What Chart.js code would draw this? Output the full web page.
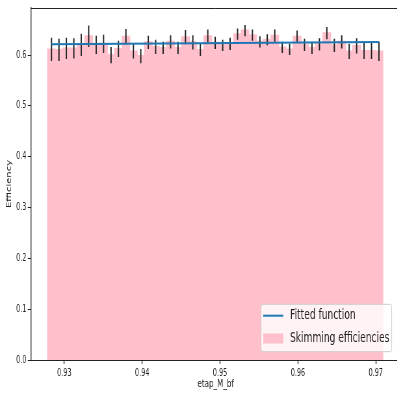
<!DOCTYPE html>
<html>
<head>
<meta charset="utf-8">
<script src="https://cdn.jsdelivr.net/npm/chart.js@4/dist/chart.umd.min.js"></script>
<style>
  html, body { margin: 0; padding: 0; background: #fff; overflow: hidden; }
  /* the reference is a squeezed matplotlib png, so draw wide and squeeze it the same way */
  #wrap { width: 616px; height: 394px; transform: scaleX(0.65); transform-origin: 0 0; }
</style>
</head>
<body>
<div id="wrap"><canvas id="effChart" width="616" height="394"></canvas></div>
<script>
// bin centres of etap_M_bf
var binCenters = [0.92835, 0.92931, 0.93026, 0.93122, 0.93217, 0.93313, 0.93409, 0.93504, 0.93600,
  0.93695, 0.93791, 0.93887, 0.93982, 0.94078, 0.94173, 0.94269, 0.94365, 0.94460, 0.94556,
  0.94651, 0.94747, 0.94843, 0.94938, 0.95034, 0.95129, 0.95225, 0.95321, 0.95416, 0.95512,
  0.95607, 0.95703, 0.95799, 0.95894, 0.95990, 0.96085, 0.96181, 0.96277, 0.96372, 0.96468,
  0.96563, 0.96659, 0.96755, 0.96850, 0.96946, 0.97041];

// skimming efficiency per bin
var efficiencies = [0.611, 0.610, 0.613, 0.613, 0.620, 0.637, 0.620, 0.622, 0.600, 0.612,
  0.636, 0.607, 0.598, 0.625, 0.616, 0.614, 0.626, 0.614, 0.635, 0.625,
  0.610, 0.637, 0.624, 0.619, 0.622, 0.641, 0.648, 0.639, 0.626, 0.630,
  0.638, 0.615, 0.611, 0.636, 0.620, 0.614, 0.621, 0.643, 0.619, 0.626,
  0.607, 0.618, 0.608, 0.608, 0.607];

// half length of the error bars
var effErrors = [0.023, 0.022, 0.021, 0.020, 0.022, 0.021, 0.018, 0.018, 0.016, 0.016,
  0.015, 0.014, 0.014, 0.013, 0.014, 0.012, 0.013, 0.012, 0.014, 0.014,
  0.012, 0.013, 0.012, 0.011, 0.012, 0.011, 0.011, 0.011, 0.011, 0.011,
  0.012, 0.011, 0.011, 0.012, 0.012, 0.012, 0.012, 0.012, 0.013, 0.013,
  0.015, 0.015, 0.016, 0.016, 0.019];

// fitted function, end points
var fitX = [0.92835, 0.97041];
var fitY = [0.6210, 0.6256];

var barData = binCenters.map(function(c, i) { return {x: c, y: efficiencies[i]}; });
var errData = binCenters.map(function(c, i) {
  return {x: c, y: [efficiencies[i] - effErrors[i], efficiencies[i] + effErrors[i]]};
});
var fitData = fitX.map(function(x, i) { return {x: x, y: fitY[i]}; });

var FONT = '"DejaVu Sans", sans-serif';

// top spine + matplotlib style legend box
var framePlugin = {
  id: 'frame',
  afterDraw: function(chart) {
    var ctx = chart.ctx;
    var a = chart.chartArea;
    ctx.save();
    ctx.strokeStyle = '#222';
    ctx.lineWidth = 1;
    ctx.beginPath();
    ctx.moveTo(a.left, Math.round(a.top) + 0.5);
    ctx.lineTo(a.right, Math.round(a.top) + 0.5);
    ctx.stroke();

    //LEGEND//
    var ds = chart.data.datasets;
    var fs = 14;
    ctx.font = fs + 'px ' + FONT;
    var labels = [ds[0].label, ds[2].label];
    var tw = Math.max(ctx.measureText(labels[0]).width, ctx.measureText(labels[1]).width);
    var padL = 3.5, handle = 30.7, gap = 10.4, padR = 3.5;
    var w = padL + handle + gap + tw + padR;
    var h = 47.4;
    var x0 = a.right - 13.4 - w;
    var y0 = a.bottom - 8.3 - h;
    ctx.beginPath();
    ctx.roundRect(x0, y0, w, h, 3);
    ctx.fillStyle = 'rgba(255,255,255,0.8)';
    ctx.fill();
    ctx.strokeStyle = '#cccccc';
    ctx.lineWidth = 1;
    ctx.stroke();

    var row1 = y0 + 11.4, row2 = y0 + 34.2;
    ctx.strokeStyle = ds[0].borderColor;
    ctx.lineWidth = 2;
    ctx.beginPath();
    ctx.moveTo(x0 + padL, row1);
    ctx.lineTo(x0 + padL + handle, row1);
    ctx.stroke();
    ctx.fillStyle = ds[2].backgroundColor;
    ctx.fillRect(x0 + padL, row2 - 5, handle, 10);

    ctx.fillStyle = '#222';
    ctx.textBaseline = 'middle';
    ctx.textAlign = 'left';
    ctx.fillText(labels[0], x0 + padL + handle + gap, row1);
    ctx.fillText(labels[1], x0 + padL + handle + gap, row2);
    ctx.restore();
  }
};

var ctx = document.getElementById('effChart');
var chart = new Chart(ctx, {
  type: 'bar',
  data: {
    datasets: [{
      type: 'line',
      label: 'Fitted function',
      data: fitData,
      borderColor: '#1f77b4',
      borderWidth: 2,
      pointRadius: 0,
      order: 0
    }, {
      type: 'bar',
      label: 'errors',
      data: errData,
      backgroundColor: '#222',
      barThickness: 2.0,
      inflateAmount: 0,
      grouped: false,
      order: 1
    }, {
      type: 'bar',
      label: 'Skimming efficiencies',
      data: barData,
      backgroundColor: '#ffc0cb',
      borderWidth: 0,
      barPercentage: 1,
      categoryPercentage: 1,
      inflateAmount: 1,
      grouped: false,
      order: 2
    }]
  },
  options: {
    responsive: false,
    animation: false,
    devicePixelRatio: 1,
    layout: { padding: { top: 6, left: 0, right: 0, bottom: 0 } },
    plugins: {
      legend: { display: false },
      tooltip: { enabled: false }
    },
    scales: {
      x: {
        type: 'linear',
        offset: false,
        min: 0.92572,
        max: 0.97317,
        afterFit: function(scale) { scale.height = 34; },
        border: { color: '#222', width: 1 },
        grid: { offset: false, drawOnChartArea: false, drawTicks: true, tickLength: 4, tickColor: '#222', tickWidth: 1.3 },
        ticks: {
          stepSize: 0.01,
          includeBounds: false,
          maxRotation: 0,
          padding: 3,
          color: '#222',
          font: { family: FONT, size: 10 },
          callback: function(v) { return v.toFixed(2); }
        },
        title: {
          display: true,
          text: 'etap_M_bf',
          color: '#222',
          font: { family: FONT, size: 11 },
          padding: { top: 0, bottom: 3 }
        }
      },
      y: {
        min: 0,
        max: 0.6925,
        afterFit: function(scale) { scale.width = 47.7; },
        border: { color: '#222', width: 1.4 },
        grid: { drawOnChartArea: false, drawTicks: true, tickLength: 5, tickColor: '#222' },
        ticks: {
          stepSize: 0.1,
          includeBounds: false,
          padding: 2,
          color: '#222',
          font: { family: FONT, size: 10 },
          callback: function(v) { return v.toFixed(1); }
        },
        title: {
          display: true,
          text: 'Efficiency',
          color: '#222',
          font: { family: FONT, size: 10 },
          padding: { top: 8, bottom: 0 }
        }
      }
    }
  },
  plugins: [framePlugin]
});
</script>
</body>
</html>
